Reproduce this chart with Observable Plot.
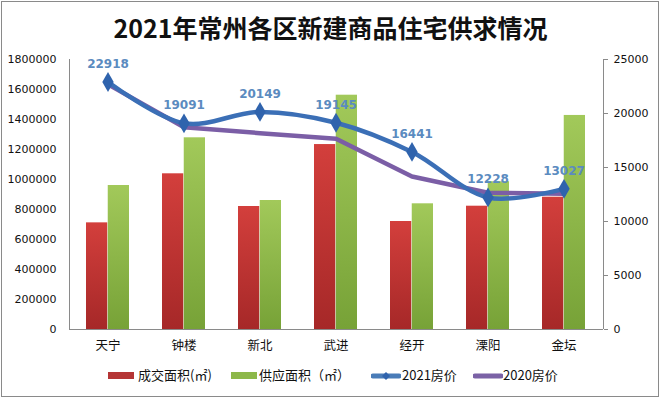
<!DOCTYPE html>
<html>
<head>
<meta charset="utf-8">
<script src="https://cdn.jsdelivr.net/npm/d3@7"></script>
<script src="https://cdn.jsdelivr.net/npm/@observablehq/plot@0.6"></script>
<style>
  body { margin: 0; background: #fff; }
  #wrap { position: relative; width: 661px; height: 398px; background: #fff; overflow: hidden; }
  #border { position: absolute; left: 1px; top: 1px; width: 658px; height: 396px; border: 1px solid #8a8a8a; box-sizing: border-box; }
  #title { position: absolute; left: 0; top: 10px; width: 661px; text-align: center; font: bold 25px "Noto Sans CJK SC", sans-serif; line-height: 34px; color: #111; }
  #chart { position: absolute; left: 0; top: 45px; }
  .lg { position: absolute; font: 13px "Noto Sans CJK SC", sans-serif; color: #111; line-height: 16px; top: 367px; white-space: nowrap; }
</style>
</head>
<body>
<div id="wrap">
  <div id="border"></div>
  <div id="title">2021年常州各区新建商品住宅供求情况</div>
  <div id="chart"></div>
  <div id="legend"></div>
</div>
<script>
// ---- data ----
const districts = ["天宁", "钟楼", "新北", "武进", "经开", "溧阳", "金坛"];
const dealArea = [711000, 1038000, 820000, 1233000, 720000, 822000, 882000];      // 成交面积(㎡)
const supplyArea = [960000, 1278000, 860000, 1562000, 838000, 985000, 1427000];   // 供应面积(㎡)
const price2021 = [22918, 19091, 20149, 19145, 16441, 12228, 13027];               // 2021房价
const price2020 = [22700, 18730, 18180, 17660, 14170, 12660, 12560];               // 2020房价
const leftTicks = [0, 200000, 400000, 600000, 800000, 1000000, 1200000, 1400000, 1600000, 1800000];
const rightTicks = [0, 5000, 10000, 15000, 20000, 25000];
const seriesNames = ["成交面积(㎡)", "供应面积（㎡）", "2021房价", "2020房价"];

const leftMax = 1800000, rightMax = 25000;
const k = leftMax / rightMax; // map right-axis values onto left scale

const rows = districts.map((d, i) => ({
  d, deal: dealArea[i], supply: supplyArea[i], p21: price2021[i], p20: price2020[i]
}));

const width = 661, height = 320;
const mL = 69, mR = 58, mT = 14, mB = 36;
const pInner = 0.43, pOuter = 0.215;
const step = (width - mL - mR) / (districts.length - pInner + 2 * pOuter);
const bw = step * (1 - pInner);

const defs = () => {
  const ns = "http://www.w3.org/2000/svg";
  const g = document.createElementNS(ns, "defs");
  g.innerHTML = `
    <linearGradient id="gRed" x1="0" y1="0" x2="0" y2="1">
      <stop offset="0" stop-color="#d33f3c"/>
      <stop offset="1" stop-color="#a62828"/>
    </linearGradient>
    <linearGradient id="gGreen" x1="0" y1="0" x2="0" y2="1">
      <stop offset="0" stop-color="#a2c95a"/>
      <stop offset="1" stop-color="#77a237"/>
    </linearGradient>`;
  return g;
};

// vertical axis lines at the frame's left and right edges
const axisLines = (index, scales, values, dims) => {
  const ns = "http://www.w3.org/2000/svg";
  const g = document.createElementNS(ns, "g");
  const y0 = dims.marginTop, y1 = dims.height - dims.marginBottom;
  for (const x of [dims.marginLeft, dims.width - dims.marginRight]) {
    const l = document.createElementNS(ns, "line");
    l.setAttribute("x1", x + 0.5); l.setAttribute("x2", x + 0.5);
    l.setAttribute("y1", y0); l.setAttribute("y2", y1);
    l.setAttribute("stroke", "#8a8a8a");
    g.appendChild(l);
  }
  return g;
};

const blue = "#3b6fb6", purple = "#7b5ea6";

const chart = Plot.plot({
  width, height,
  marginLeft: mL, marginRight: mR, marginTop: mT, marginBottom: mB,
  style: { fontFamily: "DejaVu Sans, sans-serif", fontSize: "11px", color: "#111", background: "transparent", overflow: "visible" },
  x: { domain: districts, paddingInner: pInner, paddingOuter: pOuter, axis: null },
  y: { domain: [0, leftMax], axis: null },
  marks: [
    defs,
    Plot.barY(rows, { x: "d", y: "deal", fill: "url(#gRed)", insetRight: bw / 2 }),
    Plot.barY(rows, { x: "d", y: "supply", fill: "url(#gGreen)", insetLeft: bw / 2 }),
    Plot.ruleY([0], { stroke: "#8a8a8a", strokeWidth: 1 }),
    axisLines,
    Plot.axisY({ anchor: "left", ticks: leftTicks, tickSize: 0, tickPadding: 13, tickFormat: d3.format("d"), label: null, fill: "#111" }),
    Plot.axisY({ anchor: "right", ticks: rightTicks.map(v => v * k), tickSize: 4, tickPadding: 6, tickFormat: d => String(Math.round(d / k)), label: null, stroke: "#8a8a8a", fill: "#111" }),
    Plot.axisX({ anchor: "bottom", tickSize: 0, tickPadding: 12, label: null, fontFamily: "Noto Sans CJK SC, sans-serif", fontSize: 12.5, fill: "#111" }),
    Plot.line(rows, { x: "d", y: d => d.p20 * k, stroke: purple, strokeWidth: 4.5, strokeLinejoin: "round", strokeLinecap: "round" }),
    Plot.line(rows, { x: "d", y: d => d.p21 * k, stroke: blue, strokeWidth: 4.5, curve: "catmull-rom", strokeLinecap: "round" }),
    Plot.dot(rows, { x: "d", y: d => d.p21 * k, symbol: "diamond", r: 6, fill: "#2f63ad", stroke: "none" }),
    Plot.text(rows, { x: "d", y: d => d.p21 * k, text: d => String(d.p21), dy: -18, fill: "#5b8bc0", fontWeight: "bold", fontSize: 12, fontFamily: "DejaVu Sans, sans-serif" })
  ]
});
document.getElementById("chart").appendChild(chart);

// ---- legend ----
const legend = document.getElementById("legend");
const items = [
  { x: 108, type: "rect", color: "#b53535", tx: 138, name: seriesNames[0] },
  { x: 231, type: "rect", color: "#8db84a", tx: 259, name: seriesNames[1] },
  { x: 371, type: "line", color: "#4a7cb8", marker: true, tx: 402, name: seriesNames[2] },
  { x: 473, type: "line", color: "#7b62a6", marker: false, tx: 503, name: seriesNames[3] }
];
for (const it of items) {
  const s = document.createElementNS("http://www.w3.org/2000/svg", "svg");
  s.setAttribute("width", 30); s.setAttribute("height", 14);
  s.style.position = "absolute"; s.style.left = it.x + "px"; s.style.top = "369px";
  if (it.type === "rect") {
    s.innerHTML = `<rect x="0" y="3" width="26" height="7" fill="${it.color}"/>`;
  } else {
    s.innerHTML = `<line x1="2" y1="7" x2="28" y2="7" stroke="${it.color}" stroke-width="5" stroke-linecap="round"/>` +
      (it.marker ? `<path d="M15,3 L19,7 L15,11 L11,7 Z" fill="#2f63ad"/>` : "");
  }
  legend.appendChild(s);
  const t = document.createElement("div");
  t.className = "lg"; t.style.left = it.tx + "px"; t.textContent = it.name;
  legend.appendChild(t);
}
</script>
</body>
</html>
